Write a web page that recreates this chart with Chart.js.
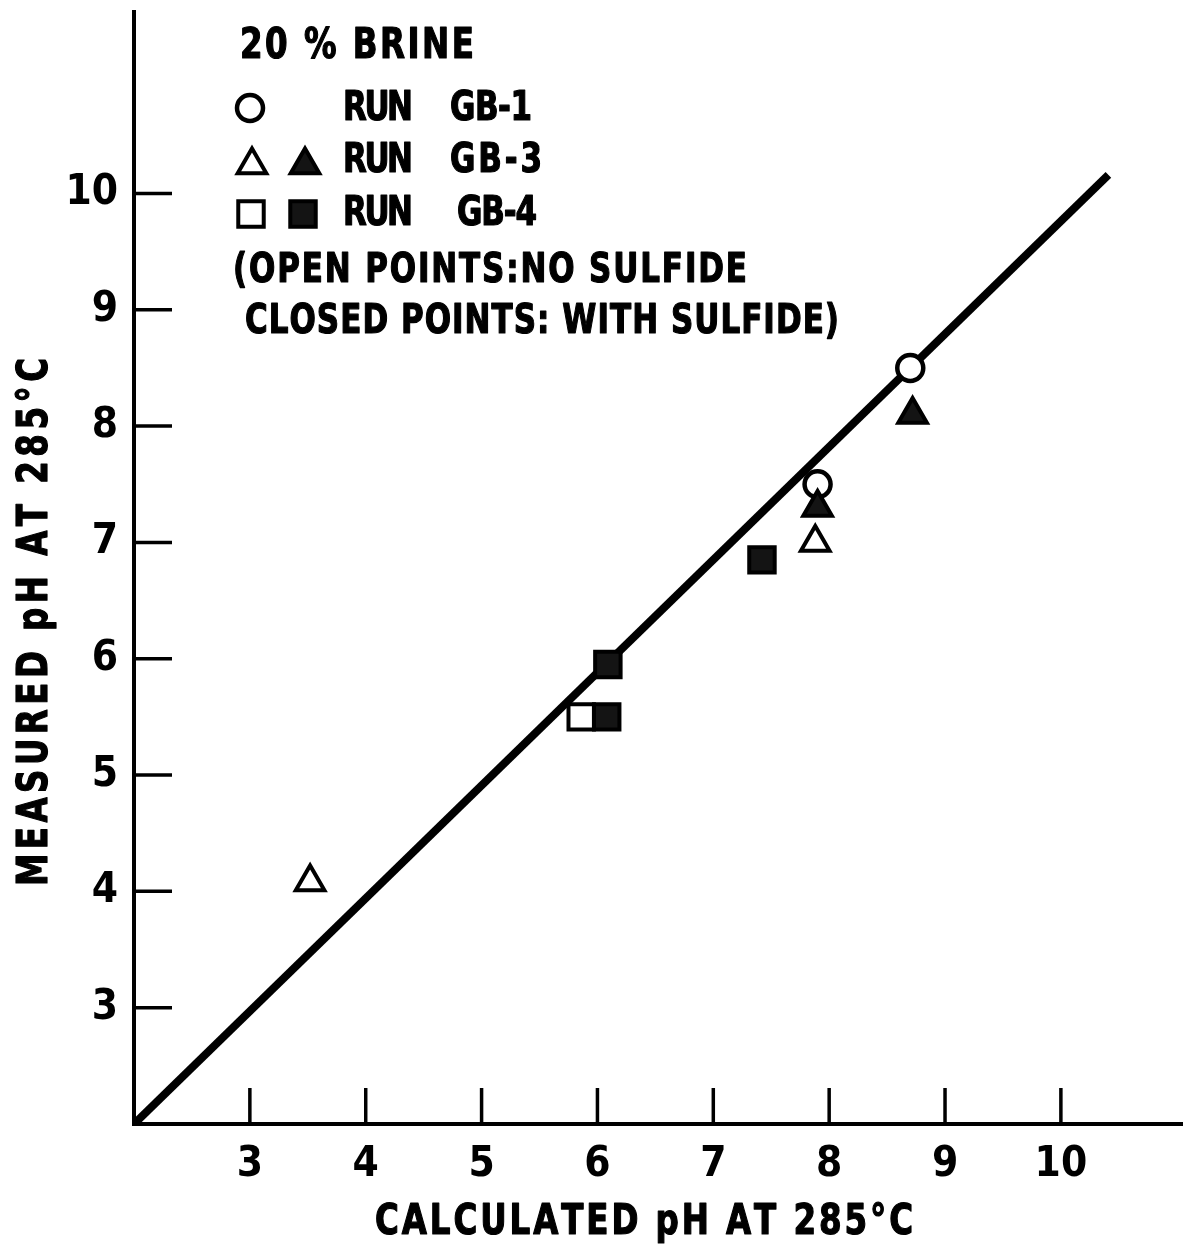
<!DOCTYPE html>
<html>
<head>
<meta charset="utf-8">
<script src="https://cdn.jsdelivr.net/npm/chart.js@4.4.1/dist/chart.umd.min.js"></script>
<style>
  html, body { margin: 0; padding: 0; background: #ffffff; }
  canvas { display: block; }
</style>
</head>
<body>
<canvas id="chart" width="1183" height="1251"></canvas>
<script>
// ---- data ----
const xTickValues = [3, 4, 5, 6, 7, 8, 9, 10];
const yTickValues = [3, 4, 5, 6, 7, 8, 9, 10];

// RUN GB-1 (no sulfide)
const gb1OpenX = [8.7, 7.9];
const gb1OpenY = [8.5, 7.5];

// RUN GB-3
const gb3OpenX = [3.52, 7.88];
const gb3OpenY = [4.08, 7.0];
const gb3ClosedX = [8.72, 7.9];
const gb3ClosedY = [8.1, 7.3];

// RUN GB-4
const gb4OpenX = [5.86];
const gb4OpenY = [5.5];
const gb4ClosedX = [6.09, 6.08, 7.42];
const gb4ClosedY = [5.95, 5.5, 6.85];

// reference line
const refLineX = [2, 10.41];
const refLineY = [2, 10.16];

const titleLines = ['20 % BRINE'];
const runLabels = ['RUN', 'GB-1', 'GB-3', 'GB-4'];
const noteLines = ['(OPEN POINTS:NO SULFIDE', 'CLOSED POINTS: WITH SULFIDE)'];
const xAxisTitle = 'CALCULATED pH AT 285°C';
const yAxisTitle = 'MEASURED pH AT 285°C';

const toPoints = (xs, ys) => xs.map((x, i) => ({ x: x, y: ys[i] }));

const FONT = '"DejaVu Sans Condensed", "DejaVu Sans", sans-serif';
const INK = '#000000';
const FILL_DARK = '#141414';

// draw a string letter by letter, narrowed, so that it spans a given width
function spreadText(ctx, text, x, y, width, squeeze) {
  const sx = squeeze || 0.86;
  const chars = Array.from(text);
  const widths = chars.map(c => ctx.measureText(c).width * sx);
  const total = widths.reduce((a, b) => a + b, 0);
  const gap = chars.length > 1 ? (width - total) / (chars.length - 1) : 0;
  let cx = x;
  chars.forEach((c, i) => {
    ctx.save();
    ctx.translate(cx, y);
    ctx.scale(sx, 1);
    ctx.fillText(c, 0, 0);
    ctx.strokeText(c, 0, 0);
    ctx.restore();
    cx += widths[i] + gap;
  });
}

const styles = {
  openCircle:   { pointStyle: 'circle',   radius: 13,   borderWidth: 4.5, fill: '#ffffff', stroke: INK },
  openTri:      { pointStyle: 'triangle', radius: 16.5, borderWidth: 4,   fill: '#ffffff', stroke: INK },
  closedTri:    { pointStyle: 'triangle', radius: 16.5, borderWidth: 4,   fill: FILL_DARK, stroke: INK },
  openSquare:   { pointStyle: 'rect',     radius: 18,   borderWidth: 4,   fill: '#ffffff', stroke: INK },
  closedSquare: { pointStyle: 'rect',     radius: 18,   borderWidth: 4,   fill: FILL_DARK, stroke: INK }
};

function scatterSet(label, data, st, order) {
  return {
    type: 'scatter',
    label: label,
    data: data,
    order: order,
    pointStyle: st.pointStyle,
    pointRadius: st.radius,
    pointHoverRadius: st.radius,
    pointBorderWidth: st.borderWidth,
    pointBackgroundColor: st.fill,
    pointBorderColor: st.stroke,
    showLine: false
  };
}

// inward tick marks drawn along each axis
const inwardTicks = {
  id: 'inwardTicks',
  beforeDatasetsDraw(chart) {
    const { ctx, chartArea, scales } = chart;
    ctx.save();
    ctx.strokeStyle = INK;
    ctx.lineWidth = 3.5;
    ctx.lineCap = 'butt';
    scales.x.ticks.forEach(t => {
      const px = scales.x.getPixelForValue(t.value);
      ctx.beginPath();
      ctx.moveTo(px, chartArea.bottom);
      ctx.lineTo(px, chartArea.bottom - 36);
      ctx.stroke();
    });
    scales.y.ticks.forEach(t => {
      const py = scales.y.getPixelForValue(t.value);
      ctx.beginPath();
      ctx.moveTo(chartArea.left, py);
      ctx.lineTo(chartArea.left + 38, py);
      ctx.stroke();
    });
    ctx.restore();
  }
};

// key in the upper left and both axis titles
const annotations = {
  id: 'annotations',
  afterDraw(chart) {
    const ctx = chart.ctx;
    const P = Chart.helpers.drawPoint;
    ctx.save();
    ctx.fillStyle = INK;
    ctx.strokeStyle = INK;
    ctx.lineWidth = 1.2;
    ctx.lineJoin = 'round';
    ctx.textBaseline = 'middle';
    ctx.textAlign = 'left';
    ctx.font = 'bold 42px ' + FONT;

    spreadText(ctx, titleLines[0], 240, 47, 234);

    const mark = (st, x, y) => {
      ctx.save();
      ctx.fillStyle = st.fill;
      ctx.strokeStyle = st.stroke;
      ctx.lineWidth = st.borderWidth;
      ctx.lineJoin = 'miter';
      P(ctx, { pointStyle: st.pointStyle, radius: st.radius, rotation: 0, borderWidth: st.borderWidth }, x, y);
      ctx.restore();
    };
    mark(styles.openCircle, 250, 108);
    mark(styles.openTri, 252, 165);
    mark(styles.closedTri, 305, 165);
    mark(styles.openSquare, 251, 214);
    mark(styles.closedSquare, 303, 214);

    ctx.font = 'bold 40px ' + FONT;
    spreadText(ctx, runLabels[0], 343, 110, 70);
    spreadText(ctx, runLabels[1], 450, 110, 82);
    spreadText(ctx, runLabels[0], 343, 162, 70);
    spreadText(ctx, runLabels[2], 450, 162, 92);
    spreadText(ctx, runLabels[0], 343, 215, 70);
    spreadText(ctx, runLabels[3], 457, 215, 80);

    spreadText(ctx, noteLines[0], 233, 272, 514);
    spreadText(ctx, noteLines[1], 245, 323, 594);

    ctx.font = 'bold 42px ' + FONT;
    spreadText(ctx, xAxisTitle, 375, 1223, 538);

    ctx.translate(36, 886);
    ctx.rotate(-Math.PI / 2);
    spreadText(ctx, yAxisTitle, 0, 0, 528);
    ctx.restore();
  }
};

const tickFont = { family: FONT, size: 42, weight: 'bold' };

function noEdgePadding(s) {
  s.paddingLeft = 0; s.paddingRight = 0; s.paddingTop = 0; s.paddingBottom = 0;
}

new Chart(document.getElementById('chart'), {
  data: {
    datasets: [
      {
        type: 'line',
        label: 'reference',
        data: toPoints(refLineX, refLineY),
        order: 10,
        borderColor: INK,
        borderWidth: 8,
        pointRadius: 0,
        fill: false,
        tension: 0
      },
      scatterSet('RUN GB-1', toPoints(gb1OpenX, gb1OpenY), styles.openCircle, 6),
      scatterSet('RUN GB-4 (no sulfide)', toPoints(gb4OpenX, gb4OpenY), styles.openSquare, 5),
      scatterSet('RUN GB-4 (with sulfide)', toPoints(gb4ClosedX, gb4ClosedY), styles.closedSquare, 4),
      scatterSet('RUN GB-3 (no sulfide)', toPoints(gb3OpenX, gb3OpenY), styles.openTri, 3),
      scatterSet('RUN GB-3 (with sulfide)', toPoints(gb3ClosedX, gb3ClosedY), styles.closedTri, 2)
    ]
  },
  options: {
    responsive: false,
    animation: false,
    events: [],
    layout: { autoPadding: false, padding: { top: 12, right: 0, bottom: 0, left: 0 } },
    plugins: {
      legend: { display: false },
      tooltip: { enabled: false }
    },
    scales: {
      x: {
        type: 'linear',
        position: 'bottom',
        min: 2,
        max: 11.054,
        afterBuildTicks: s => { s.ticks = xTickValues.map(v => ({ value: v })); },
        afterFit: s => { s.height = 127; noEdgePadding(s); },
        grid: { drawOnChartArea: false, drawTicks: false },
        border: { display: true, color: INK, width: 4 },
        ticks: { color: INK, font: tickFont, padding: 16, maxRotation: 0, autoSkip: false }
      },
      y: {
        type: 'linear',
        position: 'left',
        min: 2,
        max: 11.56,
        afterBuildTicks: s => { s.ticks = yTickValues.map(v => ({ value: v })); },
        afterFit: s => { s.width = 134; noEdgePadding(s); },
        grid: { drawOnChartArea: false, drawTicks: false },
        border: { display: true, color: INK, width: 4 },
        ticks: { color: INK, font: tickFont, padding: 16, autoSkip: false }
      }
    }
  },
  plugins: [inwardTicks, annotations]
});
</script>
</body>
</html>
